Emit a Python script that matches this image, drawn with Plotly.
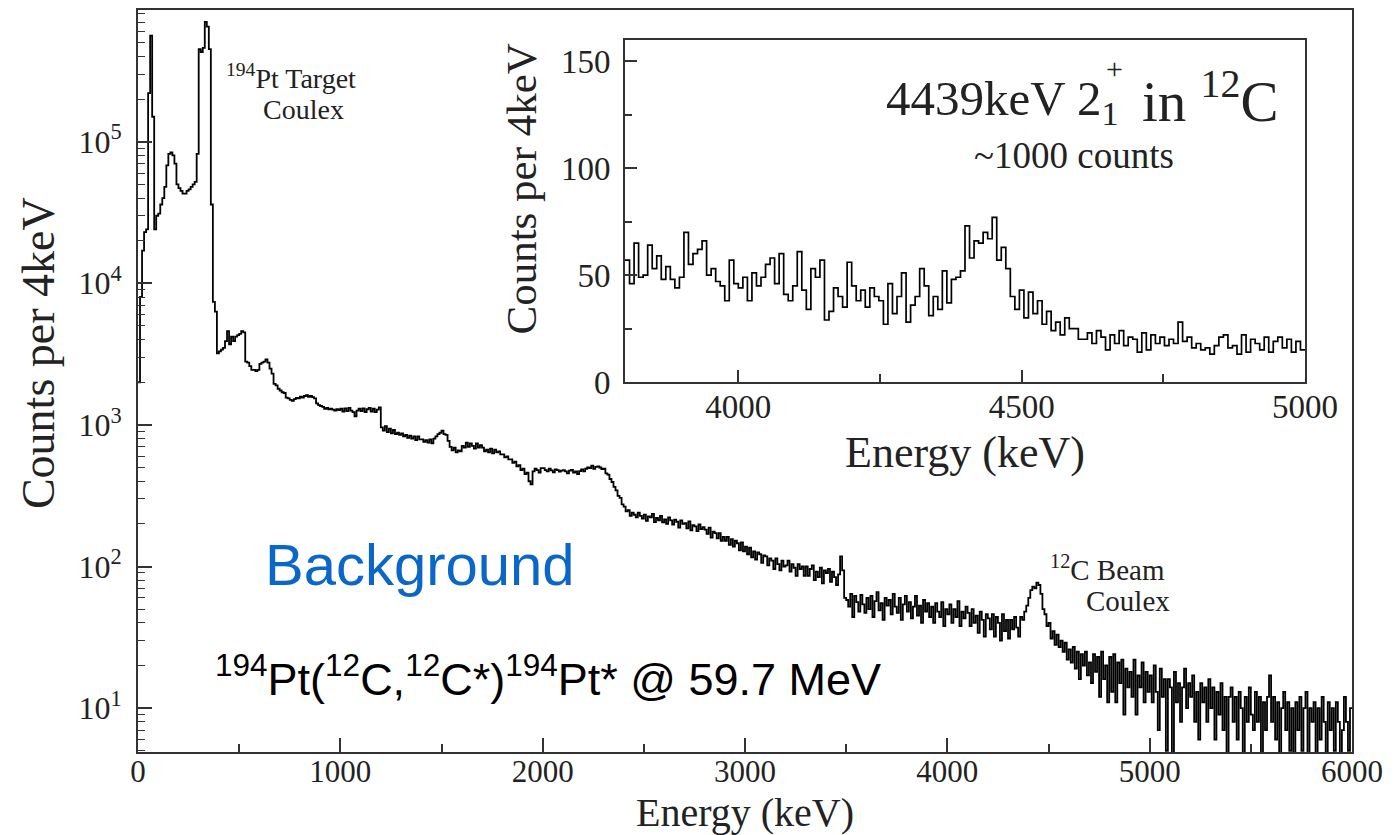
import numpy as np
import plotly.graph_objects as go

# ---------------- data ----------------
# main spectrum: 10 keV bins, lower edges 0..5990 keV
main_bin_width = 10
main_counts = [
    2000, 8000, 17000, 23000, 24000, 220000, 560000, 150000, 24000, 30000,
    31000, 36000, 40000, 48000, 68000, 82000, 84000, 80000, 70000, 50000,
    47000, 45000, 43000, 43000, 45000, 46000, 48000, 50000, 52000, 82000,
    450000, 430000, 460000, 700000, 650000, 450000, 36000, 7400, 6300, 3200,
    3300, 3400, 3500, 3900, 4600, 3700, 4200, 3900, 4200, 4300,
    4400, 4600, 4500, 2800, 2750, 2600, 2450, 2450, 2400, 2450,
    2700, 2750, 2800, 2900, 2750, 2500, 2300, 1950, 1900, 1800,
    1750, 1700, 1680, 1560, 1540, 1500, 1480, 1520, 1550, 1540,
    1580, 1560, 1600, 1620, 1580, 1600, 1570, 1540, 1420, 1380,
    1360, 1340, 1300, 1320, 1290, 1300, 1280, 1260, 1290, 1270,
    1300, 1240, 1310, 1250, 1320, 1260, 1230, 1150, 1260, 1300,
    1250, 1310, 1230, 1290, 1320, 1240, 1300, 1230, 1280, 1330,
    960, 910, 980, 890, 940, 870, 920, 860, 880, 850,
    870, 830, 850, 810, 840, 800, 830, 780, 830, 790,
    790, 760, 780, 750, 790, 740, 800, 830, 860, 880,
    910, 860, 850, 770, 700, 660, 690, 640, 660, 650,
    710, 690, 750, 700, 740, 710, 680, 740, 690, 720,
    690, 650, 670, 640, 680, 630, 670, 640, 650, 620,
    620, 590, 600, 570, 570, 540, 550, 510, 520, 480,
    490, 450, 460, 400, 380, 470, 490, 480, 460, 495,
    495, 480, 470, 490, 478, 462, 485, 480, 468, 475,
    480, 470, 455, 475, 482, 460, 470, 450, 472, 485,
    470, 490, 500, 495, 515, 490, 505, 510, 500, 488,
    490, 455, 445, 415, 395, 365, 345, 315, 305, 275,
    265, 245, 250, 228, 240, 232, 222, 240, 228, 218,
    232, 210, 226, 222, 235, 206, 220, 212, 228, 205,
    215, 200, 222, 212, 198, 214, 207, 188, 212, 200,
    202, 186, 208, 180, 196, 192, 178, 198, 184, 190,
    182, 170, 188, 160, 176, 172, 158, 172, 152, 162,
    152, 162, 142, 156, 138, 152, 146, 130, 148, 128,
    138, 122, 136, 116, 128, 112, 126, 122, 106, 120,
    118, 102, 114, 110, 96, 114, 104, 94, 110, 100,
    102, 110, 92, 104, 98, 86, 104, 96, 100, 86,
    100, 86, 96, 102, 80, 92, 84, 98, 76, 94,
    90, 96, 78, 92, 84, 74, 88, 118, 94, 60,
    58, 52, 64, 44, 62, 56, 48, 63, 54, 47,
    60, 50, 62, 44, 57, 66, 49, 55, 42, 60,
    53, 58, 46, 64, 52, 47, 60, 42, 54, 62,
    48, 56, 43, 52, 62, 45, 53, 40, 58, 48,
    55, 44, 52, 40, 55, 48, 44, 56, 38, 50,
    46, 54, 40, 50, 44, 57, 38, 48, 43, 52,
    47, 38, 50, 40, 45, 34, 48, 42, 32, 46,
    43, 36, 46, 32, 44, 40, 30, 46, 35, 42,
    31, 42, 36, 44, 37, 32, 44, 42, 48, 53,
    60, 68, 72, 70, 77, 74, 64, 50, 46, 38,
    40, 31, 35, 28, 33, 27, 30, 25, 29, 22,
    26, 21, 27, 19, 25, 16, 24, 20, 25, 17,
    21, 15, 24, 18, 23, 12, 25, 16, 20, 11,
    23, 13, 24, 11, 21, 15, 22, 9, 19, 14,
    18, 12, 22, 9, 17, 14, 21, 11, 18, 13,
    17, 11, 20, 13, 7, 19, 12, 16, 5, 16,
    14, 3, 18, 11, 15, 8, 14, 19, 10, 15,
    12, 17, 8, 13, 6, 15, 11, 14, 8, 16,
    10, 14, 6, 13, 9, 15, 7, 12, 3, 12,
    14, 8, 12, 6, 13, 10, 3, 12, 8, 14,
    9, 7, 13, 8, 12, 3, 11, 7, 12, 17,
    8, 12, 6, 11, 3, 10, 13, 7, 11, 5,
    10, 3, 11, 7, 12, 5, 10, 13, 4, 10,
    8, 11, 3, 10, 6, 12, 8, 4, 11, 7,
    10, 5, 11, 8, 3, 7, 12, 8, 5, 10,
]

# inset spectrum: 8 keV bins starting at 3800 keV
inset_start = 3800
inset_bin_width = 8
inset_counts = [
    57, 46, 65, 49, 50, 64, 53, 59, 48, 54,
    48, 44, 49, 70, 55, 60, 62, 66, 50, 53,
    47, 45, 38, 57, 46, 44, 49, 38, 51, 45,
    49, 55, 58, 46, 60, 41, 38, 45, 61, 43,
    34, 53, 49, 57, 29, 33, 44, 40, 35, 56,
    45, 38, 43, 35, 44, 40, 38, 27, 46, 32,
    40, 51, 28, 36, 40, 53, 45, 31, 40, 34,
    52, 37, 48, 49, 52, 73, 58, 66, 65, 70,
    67, 77, 57, 63, 53, 40, 34, 43, 30, 42,
    32, 38, 27, 33, 24, 28, 22, 30, 25, 25,
    20, 20, 23, 18, 24, 21, 15, 22, 18, 24,
    17, 21, 20, 14, 23, 15, 22, 18, 21, 17,
    20, 18, 28, 19, 21, 16, 18, 15, 16, 13,
    17, 21, 22, 16, 17, 13, 22, 14, 20, 18,
    15, 21, 14, 19, 21, 16, 20, 14, 19, 15,
]

main_xticks = [0, 1000, 2000, 3000, 4000, 5000, 6000]
main_yticks = [10, 100, 1000, 10000, 100000]
main_yticklabels = ["10<sup>1</sup>", "10<sup>2</sup>", "10<sup>3</sup>", "10<sup>4</sup>", "10<sup>5</sup>"]
inset_xticks = [4000, 4500, 5000]
inset_yticks = [0, 50, 100, 150]

# ---------------- layout helpers ----------------
W, H = 1397, 835
PL, PR, PT, PB = 138, 1352, 8, 752  # main plot area in pixels


def px(xp):
    return (xp - PL) / (PR - PL)


def py(yp):
    return (PB - yp) / (PB - PT)


SERIF = "Liberation Serif, Times New Roman, serif"
SANS = "Liberation Sans, Arial, sans-serif"
TXT = "#222222"

# step histograms (hv) with a closing edge
mx = np.arange(len(main_counts) + 1) * main_bin_width
my = list(main_counts) + [main_counts[-1]]
ix = inset_start + np.arange(len(inset_counts) + 1) * inset_bin_width
iy = list(inset_counts) + [inset_counts[-1]]

fig = go.Figure()
fig.add_trace(go.Scatter(x=mx, y=my, mode="lines", line=dict(color="black", width=1.8, shape="hv"),
                         xaxis="x", yaxis="y", showlegend=False, hoverinfo="skip"))
fig.add_trace(go.Scatter(x=ix, y=iy, mode="lines", line=dict(color="black", width=1.7, shape="hv"),
                         xaxis="x2", yaxis="y2", showlegend=False, hoverinfo="skip"))

minor_log = [m * 10 ** k for k in range(0, 6) for m in range(2, 10)]

axis_common = dict(showline=True, linecolor="#333333", linewidth=1.8, mirror=True, ticks="inside",
                   tickcolor="#333333", showgrid=False, zeroline=False)

fig.update_layout(
    width=W, height=H,
    margin=dict(l=PL, r=W - PR, t=PT, b=H - PB),
    paper_bgcolor="white", plot_bgcolor="white",
    xaxis=dict(range=[0, 6000], tickvals=main_xticks, ticklen=14, tickwidth=1.5,
               tickfont=dict(family=SERIF, size=31, color=TXT), ticklabelstandoff=-9,
               minor=dict(ticks="inside", tickvals=[500, 1500, 2500, 3500, 4500, 5500], ticklen=8,
                          tickcolor="#333333", tickwidth=1.5),
               **axis_common),
    yaxis=dict(type="log", range=[0.69, 5.93], tickvals=main_yticks, ticktext=main_yticklabels,
               ticklen=14, tickwidth=1.5, ticklabelstandoff=8,
               tickfont=dict(family=SERIF, size=32, color=TXT),
               minor=dict(ticks="inside", tickvals=minor_log, ticklen=7, tickcolor="#333333", tickwidth=1.2),
               **axis_common),
    xaxis2=dict(domain=[px(625), px(1305)], anchor="y2", range=[3800, 5000], tickvals=inset_xticks,
                ticklen=12, tickwidth=1.5, tickfont=dict(family=SERIF, size=33, color=TXT),
                ticklabelstandoff=-5,
                minor=dict(ticks="inside", tickvals=[4250, 4750], ticklen=8, tickcolor="#333333", tickwidth=1.5),
                **axis_common),
    yaxis2=dict(domain=[py(381), py(38)], anchor="x2", range=[0, 160], tickvals=inset_yticks,
                ticklen=12, tickwidth=1.5, tickfont=dict(family=SERIF, size=33, color=TXT),
                ticklabelstandoff=6,
                minor=dict(ticks="inside", tickvals=[25, 75, 125], ticklen=7, tickcolor="#333333", tickwidth=1.5),
                **axis_common),
)

ann = []


def add(text, xp, yp, size, family=SERIF, color=TXT, xanchor="left", yanchor="middle", angle=0, align="left"):
    ann.append(dict(text=text, x=px(xp), y=py(yp), xref="paper", yref="paper", showarrow=False,
                    xanchor=xanchor, yanchor=yanchor, textangle=angle, align=align,
                    font=dict(family=family, size=size, color=color)))


# axis titles
add("Energy (keV)", 745, 813, 40, xanchor="center")
add("Counts per 4keV", 38, 352, 46, xanchor="center", angle=-90)
add("Energy (keV)", 965, 452, 44, xanchor="center")
add("Counts per 4keV", 522, 188, 43, xanchor="center", angle=-90)

# labels
add("<sup>194</sup>Pt Target", 224, 75, 28)
add("Coulex", 261, 108, 28)
add("<sup>12</sup>C Beam", 1048, 568, 29)
add("Coulex", 1084, 601, 29)
add("Background", 263, 564, 58, family=SANS, color="#0a66c8")
add("<sup>194</sup>Pt(<sup>12</sup>C,<sup>12</sup>C*)<sup>194</sup>Pt* @ 59.7 MeV", 213, 676, 45,
    family=SANS, color="black")
add("4439keV 2<sub>1</sub>", 884, 100, 49)
add("+", 1104, 67, 30)
add("in <sup>12</sup>C", 1140, 95, 57)
add("~1000 counts", 972, 154, 37)

fig.update_layout(annotations=ann)
fig.write_html("out.html")
